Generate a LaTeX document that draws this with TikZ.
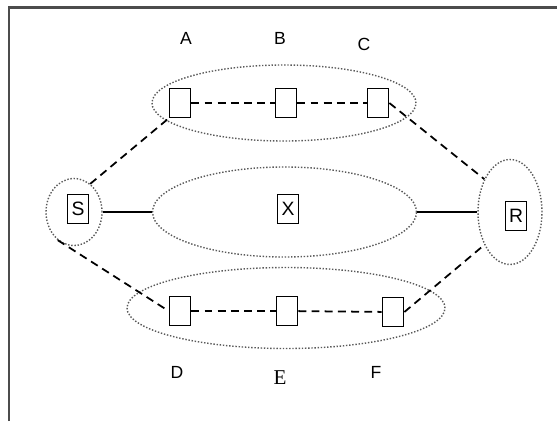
\documentclass[tikz,border=0pt]{standalone}
\usepackage{fontspec}
\setmainfont{Liberation Sans}
\newfontfamily\timesfont{Liberation Serif}
\usetikzlibrary{shapes.geometric}

\begin{document}
\begin{tikzpicture}[font=\fontsize{10}{12}\selectfont,
   group/.style={draw=black!65,densely dotted,line width=0.8pt,ellipse,inner sep=0pt},
   relay/.style={draw,line width=1pt,minimum width=0.42cm,minimum height=0.58cm,inner sep=0pt,
      font=\fontsize{11}{13}\selectfont},
   hop/.style={line width=1pt,dash pattern=on 4.5pt off 3pt},
   link/.style={line width=1.1pt}]
  \useasboundingbox (0,0) rectangle (11.14,-8.42);
  % frame: only top and left edges show
  \draw[line width=1.2pt,black!70] (0.18,-8.42) -- (0.18,-0.15) -- (11.14,-0.15);
  % dotted groups
  \node[group,minimum width=5.28cm,minimum height=1.52cm] (upper) at (5.68,-2.06) {};
  \node[group,minimum width=5.28cm,minimum height=1.80cm] (middle) at (5.69,-4.24) {};
  \node[group,minimum width=6.36cm,minimum height=1.62cm] (lower) at (5.72,-6.16) {};
  \node[group,minimum width=1.12cm,minimum height=1.34cm] (Sgrp) at (1.48,-4.24) {};
  \node[group,minimum width=1.28cm,minimum height=2.10cm] (Rgrp) at (10.20,-4.24) {};
  % relay boxes
  \node[relay] (A) at (3.60,-2.06) {};
  \node[relay] (B) at (5.72,-2.06) {};
  \node[relay] (C) at (7.56,-2.06) {};
  \node[relay] (D) at (3.60,-6.22) {};
  \node[relay] (E) at (5.74,-6.22) {};
  \node[relay] (F) at (7.86,-6.24) {};
  \node[relay] (S) at (1.56,-4.18) {S};
  \node[relay] (X) at (5.76,-4.18) {X};
  \node[relay] (R) at (10.32,-4.32) {R};
  % labels
  \node (labA) at (3.72,-0.76) {A};
  \node (labB) at (5.60,-0.76) {B};
  \node (labC) at (7.28,-0.88) {C};
  \node (labD) at (3.54,-7.44) {D};
  \node[font=\timesfont\fontsize{12}{14}\selectfont] (labE) at (5.60,-7.56) {E};
  \node (labF) at (7.52,-7.44) {F};
  % direct path
  \draw[link] (Sgrp.east) -- (middle.west);
  \draw[link] (middle.east) -- (Rgrp.west);
  % relay chains
  \draw[hop] (A) -- (B);
  \draw[hop] (B) -- (C);
  \draw[hop] (D) -- (E);
  \draw[hop] (E) -- (F);
  \draw[hop] (Sgrp.60) -- (A.south west);
  \draw[hop] (Sgrp.240) -- (D.west);
  \draw[hop] (C.east) -- (Rgrp.128);
  \draw[hop] (F.east) -- (Rgrp.232);
\end{tikzpicture}
\end{document}
